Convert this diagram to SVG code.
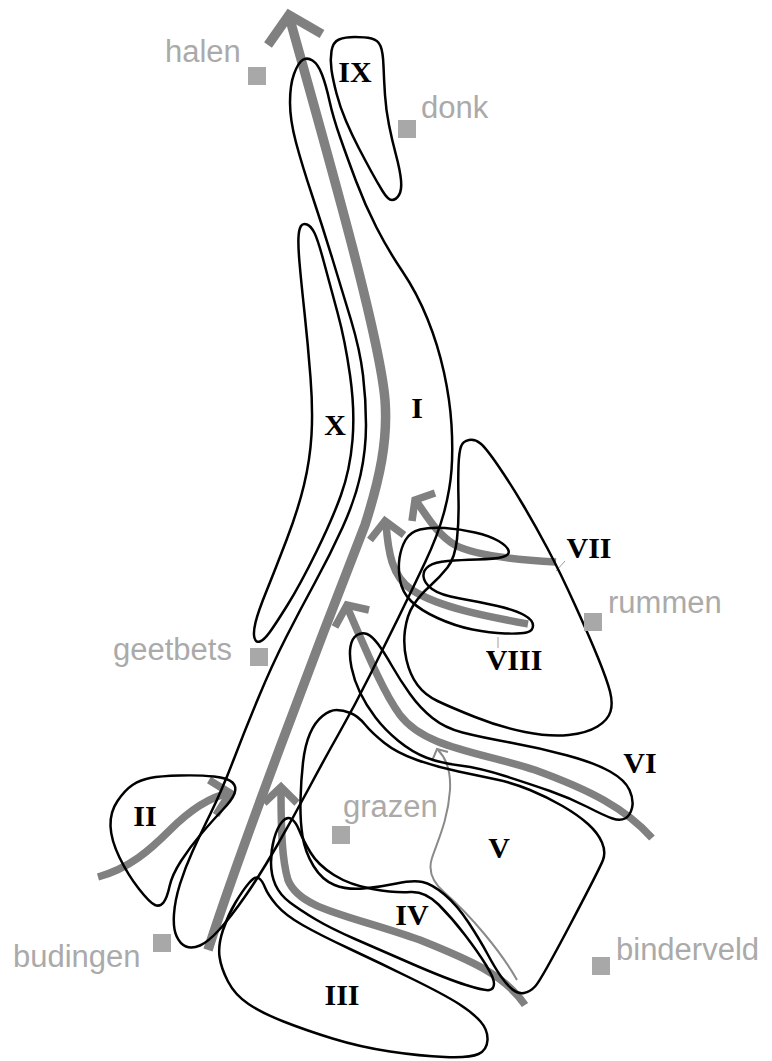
<svg xmlns="http://www.w3.org/2000/svg" width="772" height="1061" viewBox="0 0 772 1061">
<style>
.zone{fill:none;stroke:#000;stroke-width:2.5;stroke-linejoin:round}
.arr{fill:none;stroke:#808080;stroke-width:7.5;stroke-linecap:butt;stroke-linejoin:miter}
.main{stroke-width:9.5}
.thin{fill:none;stroke:#8a8a8a;stroke-width:2}
.lead{fill:none;stroke:#a0a0a0;stroke-width:1}
.num{font-family:"Liberation Serif","Times New Roman",serif;font-weight:bold;font-size:30px;fill:#000;text-anchor:middle}
.place{font-family:"Liberation Sans",Arial,sans-serif;font-size:31px;fill:#aaaaaa}
.sq{fill:#a8a8a8}
</style>
<rect width="772" height="1061" fill="#fff"/>
<g id="connectors">
<path class="arr main" d="M208,950 C240,850 320,640 365,525 C380,478 388,440 385,400 C380,340 335,180 289,16"/>
<path class="arr main" d="M268,45 L289,15 L322,34"/>
<path class="arr" d="M98,877 C130,868 150,850 170,830 C190,810 210,797 229,793"/>
<path class="arr" d="M209,780 L230,793 L216,815"/>
<path class="arr" d="M525,1005 C505,975 470,960 420,940 C350,915 300,910 288,880 C282,860 281,830 281,790"/>
<path class="arr" d="M264,803 L281,787 L297,803"/>
<path class="arr" d="M652,838 C625,808 590,790 535,770 C480,752 425,748 400,715 C385,695 370,660 348,609"/>
<path class="arr" d="M335,627 L347,605 L369,610"/>
<path class="arr" d="M556,562 C520,560 475,556 455,545 C438,535 428,518 417,502"/>
<path class="arr" d="M412,521 L415,500 L435,493"/>
<path class="arr" d="M528,624 C490,617 440,608 412,590 C392,577 388,552 386,523"/>
<path class="arr" d="M370,540 L385,521 L404,535"/>
<path class="thin" d="M517,980 C500,950 470,915 445,893 C432,882 428,870 432,858 C438,840 448,820 450,790 C451,770 446,758 438,750"/>
<path class="thin" d="M432,761 L437,749 L448,752"/>
<path class="lead" d="M556,571 L565,561"/>
<path class="lead" d="M498,637 L498,648"/>
</g>
<g id="zone-I">
<path class="zone" d="M302.5,60 Q307,57 312.5,60.5 Q318,64 322,74.5 Q326,85 329.5,101 Q333,117 340,137 Q347,157 356,181 Q365,205 376.5,227.5 Q388,250 402.5,271.5 Q417,293 427.5,319 Q438,345 444,372.5 Q450,400 451.5,425 Q453,450 451.5,470 Q450,490 444,512.5 Q438,535 425,562.5 Q412,590 398.5,617.5 Q385,645 370,675 Q355,705 340,731.5 Q325,758 309,788 Q293,818 276.5,846.5 Q260,875 245,896.5 Q230,918 219,930 Q208,942 200,945.5 Q192,949 186,946.5 Q180,944 176.5,936 Q173,928 174,914 Q175,900 180,884 Q185,868 192.5,851.5 Q200,835 211,812.5 Q222,790 233.5,760 Q245,730 258.5,697.5 Q272,665 286,637.5 Q300,610 315,582.5 Q330,555 342.5,527.5 Q355,500 360.5,475 Q366,450 366,425 Q366,400 363,375 Q360,350 351,320 Q342,290 332,257.5 Q322,225 312,195 Q302,165 296,142.5 Q290,120 290,102.5 Q290,85 294,74 Q298,63 302.5,60 Z"/>
<text class="num" x="417" y="418">I</text>
</g>
<g id="zone-II">
<path class="zone" d="M150,778 Q160,776 180,775.5 Q200,775 214,776.5 Q228,778 232.5,782.5 Q237,787 234.5,793.5 Q232,800 222.5,810 Q213,820 201.5,833.5 Q190,847 181,861 Q172,875 169.5,886.5 Q167,898 163.5,902.5 Q160,907 155,905 Q150,903 139,889 Q128,875 119.5,857.5 Q111,840 110.5,826 Q110,812 117.5,801 Q125,790 132.5,785 Q140,780 150,778 Z"/>
<text class="num" x="145" y="826">II</text>
</g>
<g id="zone-III">
<path class="zone" d="M249,883 Q255,876 258.5,878 Q262,880 265,887.5 Q268,895 276.5,905 Q285,915 302.5,925 Q320,935 350,949 Q380,963 412.5,979 Q445,995 459,1004 Q473,1013 480.5,1021.5 Q488,1030 487.5,1040 Q487,1050 478.5,1054 Q470,1058 445,1057 Q420,1056 390,1051.5 Q360,1047 332.5,1038.5 Q305,1030 283.5,1021.5 Q262,1013 248.5,1004 Q235,995 228,981.5 Q221,968 219.5,956.5 Q218,945 223,930 Q228,915 235.5,902.5 Q243,890 249,883 Z"/>
<text class="num" x="342" y="1005">III</text>
</g>
<g id="zone-IV">
<path class="zone" d="M282,822 Q287,816 291.5,819 Q296,822 299.5,831 Q303,840 310.5,852.5 Q318,865 334,875 Q350,885 372.5,889 Q395,893 410,892 Q425,891 438.5,904.5 Q452,918 465,935 Q478,952 486,965 Q494,978 494,983.5 Q494,989 489.5,990 Q485,991 466,985 Q447,979 413.5,964.5 Q380,950 355,939 Q330,928 315,919 Q300,910 290,902.5 Q280,895 275.5,885 Q271,875 271,862.5 Q271,850 274,839 Q277,828 282,822 Z"/>
<text class="num" x="412" y="925">IV</text>
</g>
<g id="zone-V">
<path class="zone" d="M336.5,710 Q343,710 350.5,713 Q358,716 365,724.5 Q372,733 384.5,743 Q397,753 417,760 Q437,767 458.5,771.5 Q480,776 496.5,779.5 Q513,783 530,790 Q547,797 562.5,806 Q578,815 588,824 Q598,833 602,842.5 Q606,852 603,860 Q600,868 570.5,924 Q541,980 535.5,986 Q530,992 524,993 Q518,994 512.5,989.5 Q507,985 501,976.5 Q495,968 487.5,954 Q480,940 468.5,922.5 Q457,905 444.5,894.5 Q432,884 422.5,882 Q413,880 396.5,883.5 Q380,887 363.5,888.5 Q347,890 334.5,885 Q322,880 313.5,866 Q305,852 302.5,836 Q300,820 300.5,800 Q301,780 303,762.5 Q305,745 310,733.5 Q315,722 322.5,716 Q330,710 336.5,710 Z"/>
<text class="num" x="499" y="858">V</text>
</g>
<g id="zone-VI">
<path class="zone" d="M357,635 Q362,632 367,634 Q372,636 378,644 Q384,652 392,666 Q400,680 410,694 Q420,708 432.5,718 Q445,728 462.5,732.5 Q480,737 510,742.5 Q540,748 567.5,755.5 Q595,763 610,771.5 Q625,780 629.5,790 Q634,800 632,808 Q630,816 625,818.5 Q620,821 612.5,818.5 Q605,816 587.5,807 Q570,798 550,791 Q530,784 505,776 Q480,768 460,765.5 Q440,763 426,757.5 Q412,752 398.5,741 Q385,730 375.5,717.5 Q366,705 360,692.5 Q354,680 351.5,667.5 Q349,655 350.5,646.5 Q352,638 357,635 Z"/>
<text class="num" x="640" y="773">VI</text>
</g>
<g id="zone-VII">
<path class="zone" d="M461,446.5 Q463,441 469,440 Q475,439 480.5,443.5 Q486,448 498,465.5 Q510,483 522.5,504 Q535,525 547.5,548.5 Q560,572 575,605 Q590,638 598.5,659 Q607,680 610,691.5 Q613,703 610.5,711.5 Q608,720 597.5,726.5 Q587,733 568.5,735 Q550,737 525,732 Q500,727 475,717 Q450,707 437.5,701 Q425,695 417.5,685 Q410,675 406.5,660 Q403,645 405,630 Q407,615 413.5,605 Q420,595 430,586 Q440,577 447.5,567.5 Q455,558 457,539 Q459,520 458.5,500 Q458,480 458.5,466 Q459,452 461,446.5 Z"/>
<text class="num" x="589" y="558">VII</text>
</g>
<g id="zone-VIII">
<path class="zone" d="M405.5,540 Q410,532 420,529.5 Q430,527 445,528 Q460,529 475,532.5 Q490,536 498.5,541 Q507,546 508.5,550.5 Q510,555 502.5,557 Q495,559 477.5,559.5 Q460,560 447.5,561 Q435,562 429,566 Q423,570 423.5,576.5 Q424,583 432,589 Q440,595 460,598.5 Q480,602 497.5,606 Q515,610 524,615 Q533,620 533,625.5 Q533,631 526.5,632.5 Q520,634 505,633.5 Q490,633 472.5,629.5 Q455,626 437.5,618 Q420,610 411,601 Q402,592 400,580 Q398,568 399.5,558 Q401,548 405.5,540 Z"/>
<text class="num" x="514" y="670">VIII</text>
</g>
<g id="zone-IX">
<path class="zone" d="M331.5,51 Q333,42 339,39.5 Q345,37 355,37 Q365,37 371.5,38.5 Q378,40 380.5,46 Q383,52 383.5,66 Q384,80 385,95 Q386,110 389,125 Q392,140 396,155 Q400,170 401,180 Q402,190 399,195 Q396,200 392,200 Q388,200 382.5,191 Q377,182 371,171 Q365,160 358.5,147.5 Q352,135 346,121 Q340,107 336.5,93.5 Q333,80 331.5,70 Q330,60 331.5,51 Z"/>
<text class="num" x="355" y="82">IX</text>
</g>
<g id="zone-X">
<path class="zone" d="M301,226 Q303,223 307,224.5 Q311,226 314.5,233 Q318,240 324,262.5 Q330,285 337.5,312.5 Q345,340 350,375 Q355,410 352.5,440 Q350,470 341,495 Q332,520 316,552.5 Q300,585 287.5,605 Q275,625 269.5,632.5 Q264,640 260,641.5 Q256,643 254.5,638 Q253,633 255.5,622.5 Q258,612 266.5,591 Q275,570 286.5,540 Q298,510 304,485 Q310,460 311.5,435 Q313,410 310.5,377.5 Q308,345 304.5,312.5 Q301,280 299.5,262.5 Q298,245 298.5,237 Q299,229 301,226 Z"/>
<text class="num" x="335" y="435">X</text>
</g>
<g id="place-halen"><rect class="sq" x="248" y="67" width="18" height="18"/><text class="place" x="165" y="62">halen</text></g>
<g id="place-donk"><rect class="sq" x="398" y="120" width="18" height="18"/><text class="place" x="421" y="118">donk</text></g>
<g id="place-geetbets"><rect class="sq" x="250" y="648" width="18" height="18"/><text class="place" x="113" y="660">geetbets</text></g>
<g id="place-rummen"><rect class="sq" x="584" y="613" width="18" height="18"/><text class="place" x="608" y="613">rummen</text></g>
<g id="place-grazen"><rect class="sq" x="332" y="826" width="18" height="18"/><text class="place" x="343" y="817">grazen</text></g>
<g id="place-budingen"><rect class="sq" x="153" y="934" width="18" height="18"/><text class="place" x="13" y="967">budingen</text></g>
<g id="place-binderveld"><rect class="sq" x="592" y="957" width="18" height="18"/><text class="place" x="616" y="960">binderveld</text></g>
</svg>
